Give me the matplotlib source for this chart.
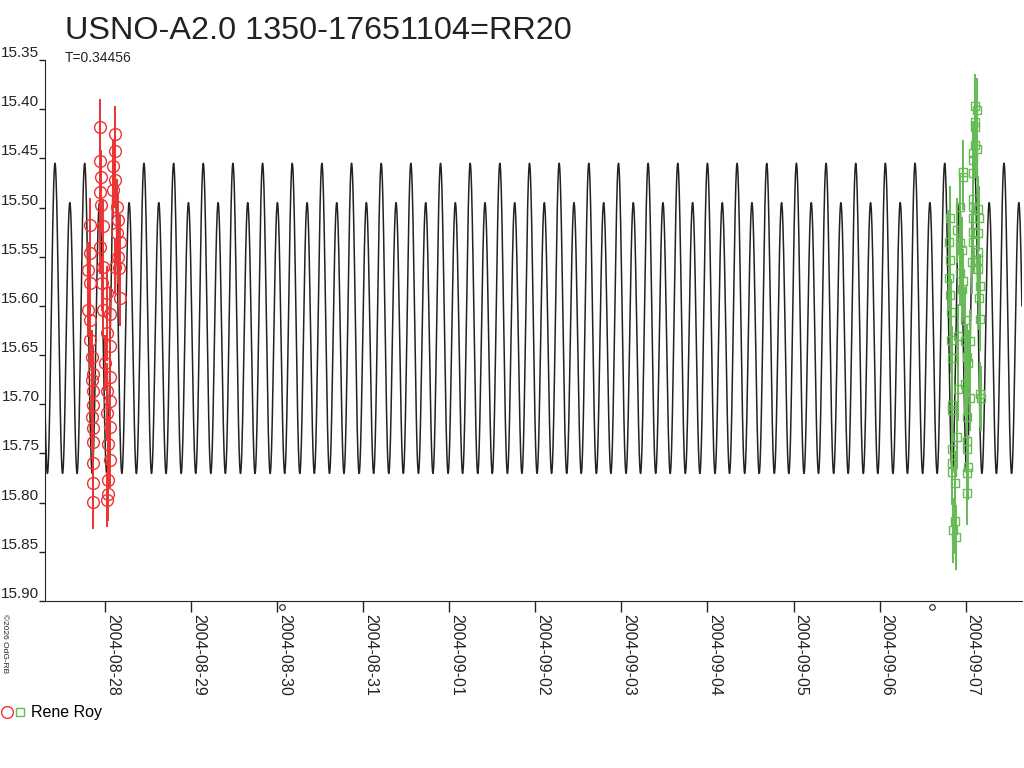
import datetime
import numpy as np
import matplotlib
matplotlib.use("Agg")
import matplotlib.pyplot as plt
import matplotlib.dates as mdates
from matplotlib.legend_handler import HandlerTuple

plt.rcParams['font.family'] = ['Liberation Sans', 'DejaVu Sans']

title = "USNO-A2.0 1350-17651104=RR20"
observer = "Rene Roy"

# light curve elements (days relative to 2004-08-28 00:00)
period = 0.34456
epoch = -0.581          # time of the brighter maximum
mag_mean = 15.6225
amp_half = 0.1475       # half-period term
amp_full = 0.02         # unequal maxima

# Rene Roy, night of 2004-08-27/28 (red circles)
red_t = [-0.058, -0.058, -0.050, -0.058, -0.050,
         0.116, 0.116, 0.096, 0.116, 0.096, 0.136, 0.155, 0.136, 0.174, 0.155, 0.116, 0.174, 0.165,
         -0.174, -0.174, -0.194, -0.174, -0.194, -0.174, -0.174, -0.155, -0.136, -0.155, -0.136,
         -0.136, -0.155, -0.136, -0.136, -0.136, -0.136, -0.136,
         -0.020, -0.058, -0.020, -0.038, 0.020, -0.020, 0.058, 0.020, 0.058, 0.000, 0.058, 0.020,
         0.058, 0.020, 0.058, 0.038, 0.058, 0.038, 0.038, 0.020]
red_mag = [15.418, 15.453, 15.469, 15.484, 15.497,
           15.425, 15.443, 15.458, 15.472, 15.482, 15.499, 15.513, 15.526, 15.535, 15.550, 15.560, 15.592, 15.561,
           15.518, 15.546, 15.563, 15.577, 15.604, 15.614, 15.635, 15.652, 15.669, 15.675, 15.687,
           15.701, 15.713, 15.724, 15.738, 15.760, 15.780, 15.799,
           15.519, 15.540, 15.560, 15.577, 15.587, 15.604, 15.608, 15.628, 15.641, 15.658, 15.672, 15.686,
           15.697, 15.709, 15.723, 15.740, 15.757, 15.777, 15.791, 15.797]
red_err = 0.028

# Rene Roy, night of 2004-09-06/07 (green squares)
green_t = [9.818, 9.809, 9.818, 9.809, 9.818, 9.826, 9.826, 9.837, 9.837, 9.837, 9.837, 9.837,
           9.837, 9.876, 9.876, 9.856, 9.887,
           9.965, 9.965, 9.934, 9.895, 9.934, 9.953, 9.934, 9.972, 9.953, 9.992, 9.914, 9.992,
           10.050, 10.012, 10.030, 9.992, 9.914, 10.050, 10.012, 10.012, 10.012, 9.895, 10.030,
           10.012, 10.012,
           10.108, 10.128, 10.108, 10.108, 10.108, 10.128, 10.088, 10.088, 10.088, 10.088, 10.088,
           10.146, 10.088, 10.158, 10.088, 10.146, 10.088, 10.146, 10.146, 10.070, 10.146, 10.166,
           10.158, 10.166, 10.166, 10.174]
green_mag = [15.511, 15.535, 15.553, 15.572, 15.589, 15.606, 15.635, 15.653, 15.701, 15.706, 15.745, 15.760,
             15.769, 15.780, 15.819, 15.828, 15.835,
             15.464, 15.469, 15.499, 15.523, 15.536, 15.543, 15.567, 15.575, 15.583, 15.614, 15.631, 15.636,
             15.636, 15.652, 15.658, 15.679, 15.684, 15.694, 15.713, 15.737, 15.745, 15.733, 15.764,
             15.770, 15.790,
             15.397, 15.401, 15.413, 15.418, 15.436, 15.440, 15.445, 15.452, 15.465, 15.491, 15.499,
             15.501, 15.511, 15.511, 15.525, 15.526, 15.535, 15.545, 15.553, 15.555, 15.562, 15.580,
             15.592, 15.613, 15.690, 15.694]
green_err = 0.033

# small markers under the axis
mark_t = [2.056, 9.608]
mark_mag = [15.906, 15.906]

x_range = (-0.697, 10.654)
y_ticks = [15.35, 15.40, 15.45, 15.50, 15.55, 15.60, 15.65, 15.70, 15.75, 15.80, 15.85, 15.90]

base = mdates.date2num(datetime.datetime(2004, 8, 28))

fig = plt.figure(figsize=(10.24, 7.68), dpi=100)
ax = fig.add_axes([45 / 1024, 1 - 601 / 768, 977 / 1024, 541 / 768])

# model light curve
tt = np.arange(x_range[0], x_range[1], 0.002)
ph = (tt - epoch) / period
model = mag_mean - amp_half * np.cos(4 * np.pi * ph) - amp_full * np.cos(2 * np.pi * ph)
ax.plot(base + tt, model, color='#222222', lw=1.1, zorder=2)

red_col = '#ee3333'
green_col = '#66bb55'
ax.errorbar(base + np.array(red_t), red_mag, yerr=red_err, fmt='none', ecolor=red_col,
            elinewidth=1.4, capsize=0, zorder=3)
h_red, = ax.plot(base + np.array(red_t), red_mag, 'o', mfc='none', mec=red_col, ms=8.5,
                 mew=1.0, zorder=4)
ax.errorbar(base + np.array(green_t), green_mag, yerr=green_err, fmt='none', ecolor=green_col,
            elinewidth=1.4, capsize=0, zorder=3)
h_green, = ax.plot(base + np.array(green_t), green_mag, 's', mfc='none', mec=green_col, ms=6,
                   mew=1.0, zorder=4)
ax.plot(base + np.array(mark_t), mark_mag, 'o', mfc='none', mec='#222222', ms=4, mew=0.8,
        clip_on=False)

ax.set_xlim(base + x_range[0], base + x_range[1])
ax.set_ylim(15.90, 15.35)
ax.set_yticks(y_ticks)
ax.set_yticklabels(['%.2f' % v for v in y_ticks])

ax.xaxis.set_major_locator(mdates.DayLocator())
ax.xaxis.set_major_formatter(mdates.DateFormatter('%Y-%m-%d'))

for s in ['top', 'right']:
    ax.spines[s].set_visible(False)
ax.spines['left'].set_color('#222222')
ax.spines['bottom'].set_color('#222222')

ax.tick_params(axis='y', direction='out', length=4, width=1, pad=0, labelsize=11,
               colors='#222222')
ax.tick_params(axis='x', direction='out', length=8, width=1, pad=1, labelsize=11.5,
               colors='#222222', labelrotation=-90)
for lab in ax.get_yticklabels():
    lab.set_verticalalignment('bottom')
for lab in ax.get_xticklabels():
    lab.set_horizontalalignment('left')
    lab.set_verticalalignment('top')

fig.text(65 / 1024, 1 - 39 / 768, title, fontsize=23.3, color='#222222', va='baseline')
fig.text(65 / 1024, 1 - 62 / 768, "T=0.34456", fontsize=10, color='#222222', va='baseline')
fig.text(1 / 1024, 1 - 614 / 768, "\u00a92026 OdG-RB", fontsize=6, rotation=-90,
         va='top', ha='left', color='#222222')

fig.legend([(h_red, h_green)], [observer], handler_map={tuple: HandlerTuple(ndivide=None, pad=0.2)},
           loc='center left', bbox_to_anchor=(0.0, 1 - 713 / 768), frameon=False,
           handlelength=1.4, handletextpad=0.4, borderpad=0, borderaxespad=0.15, fontsize=11.5)

fig.savefig('out.png', dpi=100)
